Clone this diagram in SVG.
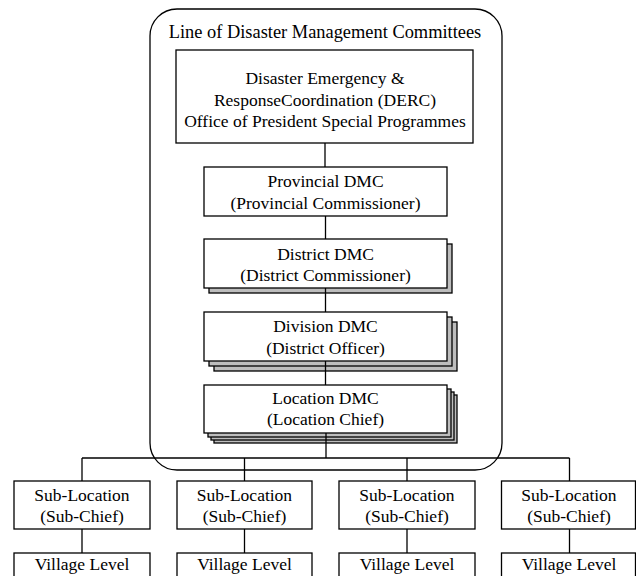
<svg xmlns="http://www.w3.org/2000/svg" width="636" height="576" viewBox="0 0 636 576">
<style>
  text { font-family: "Liberation Serif", "Times New Roman", serif; font-size: 17.5px; fill: #000; text-anchor: middle; }
  .title { font-size: 18.4px; }
  .box { fill: #fff; stroke: #000; stroke-width: 1.3; }
  .sh { fill: #bdbdbd; stroke: #000; stroke-width: 1.3; }
  .ln { fill: none; stroke: #000; stroke-width: 1.3; }
</style>
<rect x="0" y="0" width="636" height="576" fill="#fff"/>
<g id="container">
  <rect x="150" y="9" width="352" height="461" rx="27" ry="27" class="ln"/>
  <text class="title" x="325" y="38">Line of Disaster Management Committees</text>
</g>
<g id="derc">
  <rect x="176" y="50" width="297" height="93" class="box"/>
  <text x="325" y="84">Disaster Emergency &amp;</text>
  <text x="325" y="105.5">ResponseCoordination (DERC)</text>
  <text x="325" y="127">Office of President Special Programmes</text>
</g>
<g id="provincial">
  <rect x="204" y="167" width="243" height="49" class="box"/>
  <text x="325.5" y="187">Provincial DMC</text>
  <text x="325.5" y="208.5">(Provincial Commissioner)</text>
</g>
<g id="district">
  <rect x="209" y="244" width="243" height="49" class="sh"/>
  <rect x="204" y="239" width="243" height="49" class="box"/>
  <text x="325.5" y="259.5">District DMC</text>
  <text x="325.5" y="281">(District Commissioner)</text>
</g>
<g id="division">
  <rect x="214" y="322" width="243" height="49" class="sh"/>
  <rect x="209" y="317" width="243" height="49" class="sh"/>
  <rect x="204" y="312" width="243" height="49" class="box"/>
  <text x="325.5" y="332">Division DMC</text>
  <text x="325.5" y="353.5">(District Officer)</text>
</g>
<g id="location">
  <rect x="214" y="395" width="243" height="48" class="sh"/>
  <rect x="211" y="392" width="243" height="48" class="sh"/>
  <rect x="208" y="389" width="243" height="48" class="sh"/>
  <rect x="204" y="385" width="243" height="48" class="box"/>
  <text x="325.5" y="403.5">Location DMC</text>
  <text x="325.5" y="425">(Location Chief)</text>
</g>
<g id="sub1">
  <rect x="14" y="481" width="136" height="48" class="box"/>
  <text x="82" y="501">Sub-Location</text>
  <text x="82" y="522">(Sub-Chief)</text>
</g>
<g id="sub2">
  <rect x="177" y="481" width="135" height="48" class="box"/>
  <text x="244.5" y="501">Sub-Location</text>
  <text x="244.5" y="522">(Sub-Chief)</text>
</g>
<g id="sub3">
  <rect x="339" y="481" width="136" height="48" class="box"/>
  <text x="407" y="501">Sub-Location</text>
  <text x="407" y="522">(Sub-Chief)</text>
</g>
<g id="sub4">
  <rect x="501.5" y="481" width="134" height="48" class="box"/>
  <text x="569" y="501">Sub-Location</text>
  <text x="569" y="522">(Sub-Chief)</text>
</g>
<g id="village1">
  <rect x="14" y="553" width="136" height="30" class="box"/>
  <text x="82" y="570">Village Level</text>
</g>
<g id="village2">
  <rect x="177" y="553" width="135" height="30" class="box"/>
  <text x="244.5" y="570">Village Level</text>
</g>
<g id="village3">
  <rect x="339" y="553" width="136" height="30" class="box"/>
  <text x="407" y="570">Village Level</text>
</g>
<g id="village4">
  <rect x="501.5" y="553" width="134" height="30" class="box"/>
  <text x="569" y="570">Village Level</text>
</g>
<g id="connectors" class="ln">
  <line x1="325" y1="143" x2="325" y2="167"/>
  <line x1="325.5" y1="216" x2="325.5" y2="239"/>
  <line x1="325.5" y1="288" x2="325.5" y2="312"/>
  <line x1="325.5" y1="361" x2="325.5" y2="385"/>
  <line x1="326" y1="433" x2="326" y2="458"/>
  <line x1="82" y1="458" x2="569.5" y2="458"/>
  <line x1="82" y1="458" x2="82" y2="481"/>
  <line x1="244.5" y1="458" x2="244.5" y2="481"/>
  <line x1="407" y1="458" x2="407" y2="481"/>
  <line x1="569.5" y1="458" x2="569.5" y2="481"/>
  <line x1="82" y1="529" x2="82" y2="553"/>
  <line x1="244.5" y1="529" x2="244.5" y2="553"/>
  <line x1="407" y1="529" x2="407" y2="553"/>
  <line x1="569.5" y1="529" x2="569.5" y2="553"/>
</g>
</svg>
